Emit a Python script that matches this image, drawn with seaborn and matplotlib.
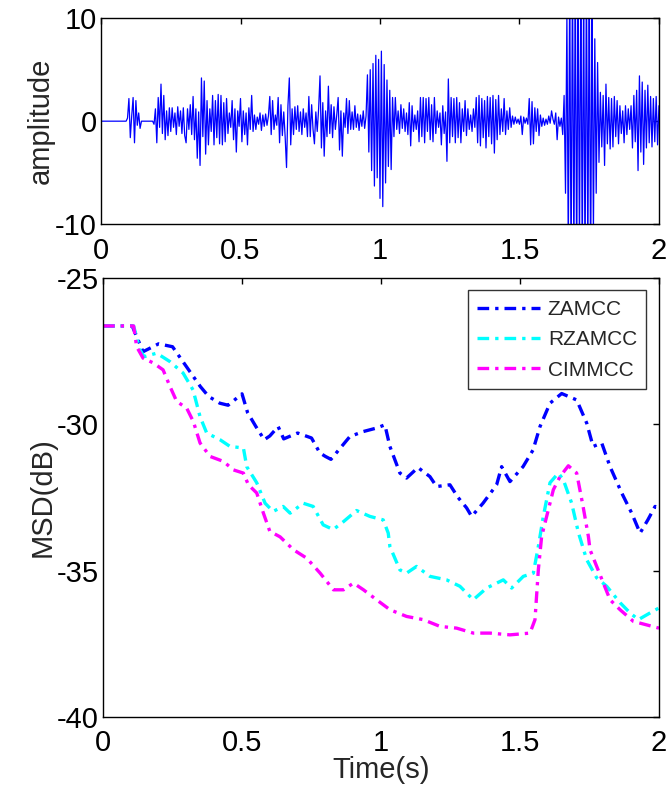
import numpy as np
import pandas as pd
import matplotlib
matplotlib.use("Agg")
import matplotlib.pyplot as plt
import seaborn as sns

# ---- 上段: 入力信号 (0.005 s 刻みで読み取った振幅) ----
amp_values = [
    0, 0, 0, 0, 0, 0, 0, 0, 0, 0, 0, 0, 0, 0, 0, 0, 0, 0, 0, 0.3,
    2.2, -1.6, 0.5, 2.3, -2.1, 2.0, -0.4, 0.8, -0.7, 0, 0, 0, 0, 0, 0, 0, 0, 0, -0.3, 1.2,
    -2.1, 2.3, -0.6, 3.6, -1.2, 2.5, -1.8, 1.0, -1.4, 1.3, -1.0, 1.3, -0.6, 0.8, -1.3, 1.4, -0.5, 1.0, -1.2, 1.3,
    -1.4, -2.1, 1.2, -0.8, 1.6, -1.3, 2.4, -1.8, 1.2, -3.6, 0.9, -4.3, 4.2, -1.5, 3.9, -3.2, 2.0, -2.3, 1.2, -1.0,
    2.5, -2.3, 2.0, -1.6, 2.6, -2.2, 2.5, -2.3, 1.8, -2.0, 2.2, -1.2, 0.8, -0.6, 2.0, -1.8, 1.2, -3.0, 1.0, -0.5,
    2.2, -2.0, 1.0, -1.3, 0.8, -2.3, 1.3, -0.8, 2.5, -1.0, 0.6, -0.8, 0.4, -0.3, 0.8, -0.9, 0.6, -0.5, 0.7, -0.4,
    0.5, 2.4, -1.3, 2.0, -0.8, 0.6, -0.4, 2.3, -2.1, 1.6, -1.4, 0.9, -1.5, -4.5, 1.5, 4.2, -2.3, 1.2, -1.3, 1.4,
    -0.8, 1.5, -1.0, 0.9, -1.3, 1.2, -0.6, 0.8, -1.5, 2.4, -1.5, 1.6, -0.8, -2.2, 0.9, -1.0, 1.2, 4.4, -2.6, 1.8,
    -3.4, 1.0, -1.5, 3.4, -1.2, 1.6, -1.6, 1.4, -0.8, 0.6, 2.3, -2.8, 1.0, -3.4, 0.8, -0.6, 2.2, -1.2, 2.0, -0.8,
    0.9, -0.8, 1.5, -0.6, 0.7, -0.9, 0.6, -0.5, 1.0, -0.7, 0.5, 4.5, -3.0, 5.0, -4.8, 5.6, -6.3, 6.4, -5.5, 6.0,
    -7.5, 6.8, -8.3, 5.5, -6.0, 4.0, -4.4, 3.0, -4.7, 2.3, -1.5, 2.3, -0.8, 1.0, -1.2, 1.6, -0.7, 1.2, -1.0, 0.8,
    -1.3, 1.8, -2.4, 1.5, -1.0, 0.6, -0.8, 1.0, -2.0, 2.3, -1.5, 2.3, -2.1, 2.2, -1.0, 2.3, -1.8, 1.6, -2.0, 2.3,
    -1.2, 1.0, -0.6, 0.8, -2.3, 1.5, -1.2, 0.9, -3.9, 4.1, -2.1, 2.3, -1.5, 2.2, -2.1, 2.3, -1.6, 1.8, -2.1, 1.2,
    -1.0, 2.0, -1.4, 1.2, -0.8, 0.6, -1.0, 1.2, -0.6, 2.3, -2.1, 2.5, -2.4, 2.2, -1.6, 2.0, -2.6, 2.4, -1.5, 2.3,
    -2.2, 2.5, -3.1, 2.1, -1.8, 2.5, -1.3, 1.2, -1.0, 2.2, -1.3, 1.0, -0.8, 1.3, -0.6, 0.5, -0.3, 0.4, -0.2, 0.2,
    -0.3, 0.5, -1.3, 0.4, -0.2, 0.3, -0.3, 2.2, -2.3, 1.9, -2.2, 1.3, -1.0, 1.2, -1.4, 0.6, -0.5, 0.3, -0.4, 0.2,
    -0.3, 0.5, -0.2, 1.0, 0.2, -0.3, 0.8, -1.8, 0.4, -0.5, 0.3, -1.3, 2.5, -7.0, 10.5, -13.0, 14.0, -15.0, 15.0, -14.0,
    15.0, -15.0, 14.0, -13.0, 15.0, -14.0, 13.0, -15.0, 15.0, -14.0, 14.0, -15.0, 12.0, -11.0, 8.0, -7.0, 5.7, -4.0, 2.8, -2.5,
    2.5, -4.3, 3.6, -2.2, 2.3, -2.7, 2.2, -2.5, 2.4, -1.5, 2.0, -2.2, 1.5, -1.2, 1.0, -2.1, 1.5, -1.3, 1.2, -0.8,
    1.5, -2.6, 2.5, -2.0, 3.0, -4.8, 4.4, -3.0, 3.8, -4.2, 3.0, -2.6, 3.5, -2.1, 2.4, -2.5, 2.2, -2.0, 2.4, -2.3,
    1.5,
]
amp_time = np.linspace(0, 2, len(amp_values))

# ---- 下段: MSD 学習曲線 ----
zamcc_t = [0, 0.105, 0.144, 0.2, 0.25, 0.3, 0.35, 0.38, 0.42, 0.45, 0.5, 0.52, 0.55, 0.58, 0.6,
           0.63, 0.65, 0.7, 0.75, 0.78, 0.8, 0.82, 0.888, 0.936, 0.984, 1.014, 1.032, 1.068, 1.092,
           1.133, 1.176, 1.2, 1.248, 1.277, 1.308, 1.326, 1.367, 1.416, 1.434, 1.464, 1.511, 1.547,
           1.572, 1.608, 1.65, 1.704, 1.74, 1.763, 1.794, 1.824, 1.866, 1.902, 1.932, 1.96, 1.986, 2.0]
zamcc_v = [-26.64, -26.64, -27.52, -27.25, -27.35, -28.03, -28.71, -29.05, -29.28, -29.35, -28.96,
           -29.6, -30.08, -30.53, -30.4, -30.08, -30.5, -30.3, -30.47, -30.98, -31.1, -31.2, -30.42,
           -30.25, -30.13, -30.02, -30.76, -31.67, -31.84, -31.48, -31.79, -32.13, -32.07, -32.5,
           -32.86, -33.15, -32.7, -32.07, -31.45, -31.96, -31.45, -30.88, -30.08, -29.28, -28.95,
           -29.17, -29.96, -30.76, -30.64, -31.45, -32.35, -33.04, -33.72, -33.27, -32.81, -32.85]

rzamcc_t = [0, 0.11, 0.133, 0.148, 0.193, 0.241, 0.288, 0.324, 0.349, 0.373, 0.421, 0.457, 0.505,
            0.517, 0.553, 0.583, 0.612, 0.648, 0.673, 0.72, 0.756, 0.792, 0.828, 0.865, 0.912, 0.96,
            1.008, 1.026, 1.032, 1.068, 1.092, 1.128, 1.176, 1.236, 1.284, 1.332, 1.38, 1.44, 1.47,
            1.512, 1.548, 1.566, 1.584, 1.608, 1.638, 1.656, 1.686, 1.71, 1.74, 1.776, 1.812, 1.86,
            1.896, 1.926, 1.968, 2.0]
rzamcc_v = [-26.64, -26.64, -27.46, -27.69, -27.57, -27.86, -28.25, -28.83, -29.74, -30.3, -30.53,
            -30.76, -30.81, -31.45, -32.0, -32.7, -32.98, -32.81, -33.04, -32.7, -32.81, -33.44,
            -33.6, -33.33, -32.95, -33.15, -33.27, -33.72, -34.18, -34.98, -35.09, -34.86, -35.2,
            -35.32, -35.54, -36.0, -35.6, -35.32, -35.6, -35.2, -35.09, -34.18, -33.15, -32.0,
            -31.67, -31.9, -32.7, -33.7, -34.63, -35.25, -35.54, -36.1, -36.45, -36.68, -36.45, -36.28]

cimmcc_t = [0, 0.11, 0.121, 0.144, 0.18, 0.216, 0.241, 0.265, 0.301, 0.325, 0.349, 0.385, 0.433,
            0.469, 0.505, 0.523, 0.553, 0.577, 0.6, 0.637, 0.685, 0.733, 0.781, 0.829, 0.865, 0.901,
            0.937, 0.984, 1.032, 1.092, 1.152, 1.212, 1.272, 1.332, 1.392, 1.464, 1.536, 1.554,
            1.566, 1.578, 1.596, 1.62, 1.644, 1.674, 1.704, 1.727, 1.746, 1.752, 1.776, 1.8, 1.824,
            1.86, 1.908, 1.956, 2.0]
cimmcc_v = [-26.64, -26.64, -27.35, -27.74, -27.9, -28.14, -28.71, -29.22, -29.45, -29.91, -30.64,
            -31.1, -31.27, -31.56, -31.67, -32.07, -32.35, -33.04, -33.66, -33.85, -34.29, -34.58,
            -35.09, -35.66, -35.66, -35.43, -35.66, -36.0, -36.34, -36.57, -36.68, -36.91, -36.97,
            -37.14, -37.14, -37.2, -37.14, -36.68, -34.98, -33.83, -33.15, -32.24, -31.79, -31.42,
            -31.67, -32.81, -33.83, -34.29, -34.86, -35.43, -36.0, -36.34, -36.74, -36.86, -36.97]

series = [("ZAMCC", zamcc_t, zamcc_v, "#0000ff"),
          ("RZAMCC", rzamcc_t, rzamcc_v, "#00ffff"),
          ("CIMMCC", cimmcc_t, cimmcc_v, "#ff00ff")]

sns.set_style("white")
plt.rcParams["font.family"] = ["Liberation Sans", "DejaVu Sans"]
plt.rcParams["axes.unicode_minus"] = False

fig = plt.figure(figsize=(6.69, 7.92), dpi=100)
ax1 = fig.add_axes([0.151, 0.717, 0.834, 0.260])
ax2 = fig.add_axes([0.154, 0.095, 0.831, 0.554])

sns.lineplot(x=amp_time, y=amp_values, ax=ax1, color="#0000ff", linewidth=0.9)
ax1.set_xlim(0, 2)
ax1.set_ylim(-10, 10)
ax1.set_xticks([0, 0.5, 1, 1.5, 2])
ax1.set_xticklabels(["0", "0.5", "1", "1.5", "2"])
ax1.set_yticks([-10, 0, 10])
ax1.set_ylabel("amplitude", fontsize=21, labelpad=0)

dashdot = (0, (3.5, 1.8, 1.0, 1.8))
for name, t, v, c in series:
    sns.lineplot(x=t, y=v, ax=ax2, color=c, linestyle=dashdot, linewidth=2.4, label=name)
ax2.set_xlim(0, 2)
ax2.set_ylim(-40, -25)
ax2.set_xticks([0, 0.5, 1, 1.5, 2])
ax2.set_xticklabels(["0", "0.5", "1", "1.5", "2"])
ax2.set_yticks([-40, -35, -30, -25])
ax2.set_ylabel("MSD(dB)", fontsize=21, labelpad=0)
ax2.set_xlabel("Time(s)", fontsize=21, labelpad=-1)

leg = ax2.legend(loc="upper right", fontsize=15, frameon=True, fancybox=False,
                 edgecolor="black", borderaxespad=0.6, handlelength=3.0,
                 handletextpad=0.4, labelspacing=0.55, borderpad=0.45)
leg.get_frame().set_linewidth(1.0)

for ax in (ax1, ax2):
    ax.tick_params(direction="in", length=4, width=1, top=True, right=True,
                   labelsize=21, colors="black")
    ax.tick_params(axis="x", pad=9)
    ax.tick_params(axis="y", pad=3)
    for s in ax.spines.values():
        s.set_color("black")
        s.set_linewidth(1.0)

fig.savefig("out.png", dpi=100)
